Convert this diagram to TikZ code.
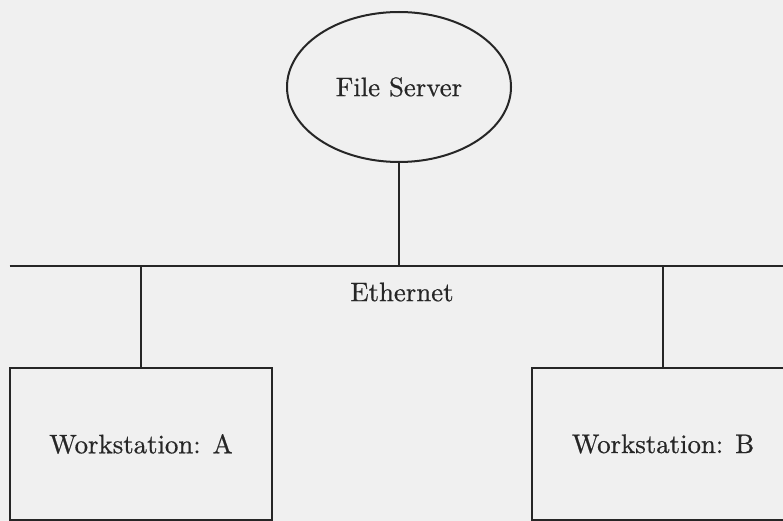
\documentclass[tikz,border=0pt]{standalone}
\usepackage{fontspec}
\newfontfamily\tenrm{lmroman10-regular.otf}[FakeBold=0.6]
\usetikzlibrary{shapes.geometric}
\definecolor{paper}{HTML}{F0F0F0}
\definecolor{ink}{HTML}{262626}
\tikzset{
  lbl/.style={font=\tenrm\fontsize{26.8}{32}\selectfont, text=ink},
  serverbox/.style={ellipse, draw=ink, line width=2pt, minimum width=224pt, minimum height=150pt, inner sep=0pt, lbl},
  station/.style={rectangle, draw=ink, line width=2pt, minimum width=262pt, minimum height=152pt, inner sep=0pt, lbl},
  wire/.style={draw=ink, line width=2pt},
}
\begin{document}
\begin{tikzpicture}[x=1pt,y=-1pt]
\fill[paper] (0,0) rectangle (783,521);
\useasboundingbox (0,0) rectangle (783,521);
\clip (0,0) rectangle (783,521);
\node[serverbox] (fs) at (399,87) {File Server};
\coordinate (busL) at (9.5,265.5);
\coordinate (busR) at (790,265.5);
\node[lbl] (eth) at (402,292) {Ethernet};
\node[station] (wa) at (141,444) {Workstation: A};
\node[station] (wb) at (663,444) {Workstation: B};
\draw[wire] (busL) -- (busR);
\draw[wire] (fs.south) -- (fs.south |- busL);
\draw[wire] (wa.north) -- (wa.north |- busL);
\draw[wire] (wb.north) -- (wb.north |- busL);
\end{tikzpicture}
\end{document}
